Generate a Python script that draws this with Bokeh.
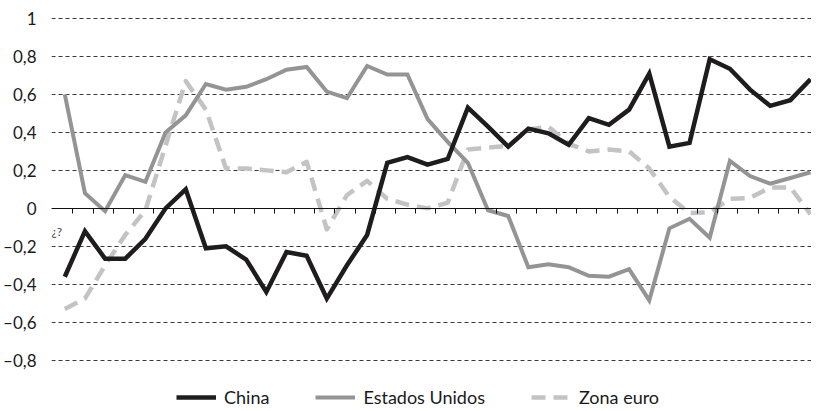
from bokeh.plotting import figure
from bokeh.models import (FixedTicker, Legend, LegendItem, Label, Range1d,
                          ColumnDataSource, CustomJSTickFormatter)
from bokeh.embed import file_html
from bokeh.resources import INLINE

# ---- data ----
periodo = list(range(38))
china = [-0.36, -0.12, -0.265, -0.265, -0.16, 0.0, 0.10, -0.21, -0.20, -0.27,
         -0.44, -0.23, -0.25, -0.475, -0.30, -0.14, 0.24, 0.27, 0.23, 0.26,
         0.53, 0.43, 0.325, 0.42, 0.395, 0.335, 0.475, 0.44, 0.52, 0.71,
         0.325, 0.345, 0.785, 0.735, 0.625, 0.54, 0.57, 0.68]
estados_unidos = [0.60, 0.08, -0.015, 0.175, 0.14, 0.40, 0.49, 0.655, 0.625, 0.64,
                  0.68, 0.73, 0.745, 0.615, 0.58, 0.75, 0.705, 0.705, 0.47, 0.35,
                  0.24, -0.01, -0.04, -0.31, -0.295, -0.31, -0.355, -0.36, -0.32, -0.485,
                  -0.105, -0.055, -0.155, 0.25, 0.17, 0.13, 0.16, 0.19]
zona_euro = [-0.53, -0.475, -0.30, -0.14, -0.01, 0.33, 0.67, 0.52, 0.21, 0.21,
             0.20, 0.19, 0.245, -0.11, 0.07, 0.145, 0.05, 0.02, 0.0, 0.03,
             0.31, 0.32, 0.33, 0.415, 0.43, 0.34, 0.30, 0.31, 0.30, 0.21,
             0.06, -0.025, -0.02, 0.05, 0.055, 0.11, 0.11, -0.03]
series_names = ["China", "Estados Unidos", "Zona euro"]
y_ticks = [-0.8, -0.6, -0.4, -0.2, 0, 0.2, 0.4, 0.6, 0.8, 1]
y_labels = ["–0,8", "–0,6", "–0,4", "–0,2", "0", "0,2", "0,4", "0,6", "0,8", "1"]
x_axis_note = "¿?"

FONT = "Lato"

src = ColumnDataSource(dict(periodo=periodo, china=china,
                            eeuu=estados_unidos, euro=zona_euro))

p = figure(width=811, height=408, output_backend="svg", toolbar_location=None,
           x_range=Range1d(-0.66, 37.05), y_range=Range1d(-1.054, 1.042),
           min_border_left=46, min_border_right=0, min_border_top=10,
           min_border_bottom=0)
p.outline_line_color = None
p.background_fill_color = "white"

# grid
p.xgrid.visible = False
p.ygrid.ticker = FixedTicker(ticks=y_ticks)
p.ygrid.grid_line_color = "#3a3a3a"
p.ygrid.grid_line_dash = "4 3"
p.ygrid.grid_line_width = 1

# y axis: labels only
p.yaxis.ticker = FixedTicker(ticks=y_ticks)
p.yaxis.major_label_overrides = dict(zip(y_ticks, y_labels))
p.yaxis.axis_line_color = None
p.yaxis.major_tick_line_color = None
p.yaxis.minor_tick_line_color = None
p.yaxis.major_label_standoff = 9
p.yaxis.major_label_text_font = FONT
p.yaxis.major_label_text_font_size = "17px"
p.yaxis.major_label_text_color = "#1a1a1a"

# x axis drawn at zero with ticks only
p.xaxis.fixed_location = 0
p.xaxis.ticker = FixedTicker(ticks=[i + 0.4 for i in range(len(periodo) - 1)])
p.xaxis.formatter = CustomJSTickFormatter(code="return ''")
p.xaxis.axis_line_color = "#111111"
p.xaxis.axis_line_width = 1.2
p.xaxis.major_tick_line_color = "#111111"
p.xaxis.major_tick_in = 0
p.xaxis.major_tick_out = 5
p.xaxis.minor_tick_line_color = None

r_eu = p.line("periodo", "euro", source=src, line_color="#c3c3c5",
              line_width=4.5, line_dash="14 8", line_join="round")
r_us = p.line("periodo", "eeuu", source=src, line_color="#949494",
              line_width=4, line_join="miter")
r_cn = p.line("periodo", "china", source=src, line_color="#1f1c1d",
              line_width=4.5, line_join="miter")

legend = Legend(items=[LegendItem(label=series_names[0], renderers=[r_cn]),
                       LegendItem(label=series_names[1], renderers=[r_us]),
                       LegendItem(label=series_names[2], renderers=[r_eu])],
                orientation="horizontal", location=(125, 0),
                padding=0, margin=0, spacing=46, glyph_width=40,
                glyph_height=16, label_height=16, label_standoff=8,
                label_text_font=FONT, label_text_font_size="18px",
                label_text_color="#1a1a1a", border_line_color=None,
                background_fill_alpha=0)
p.add_layout(legend)

p.add_layout(Label(x=-0.66, y=-0.122, text=x_axis_note, text_font=FONT,
                   text_font_size="12px", text_color="#444444",
                   text_baseline="alphabetic", text_align="left"))

open("out.html", "w").write(file_html(p, INLINE))
